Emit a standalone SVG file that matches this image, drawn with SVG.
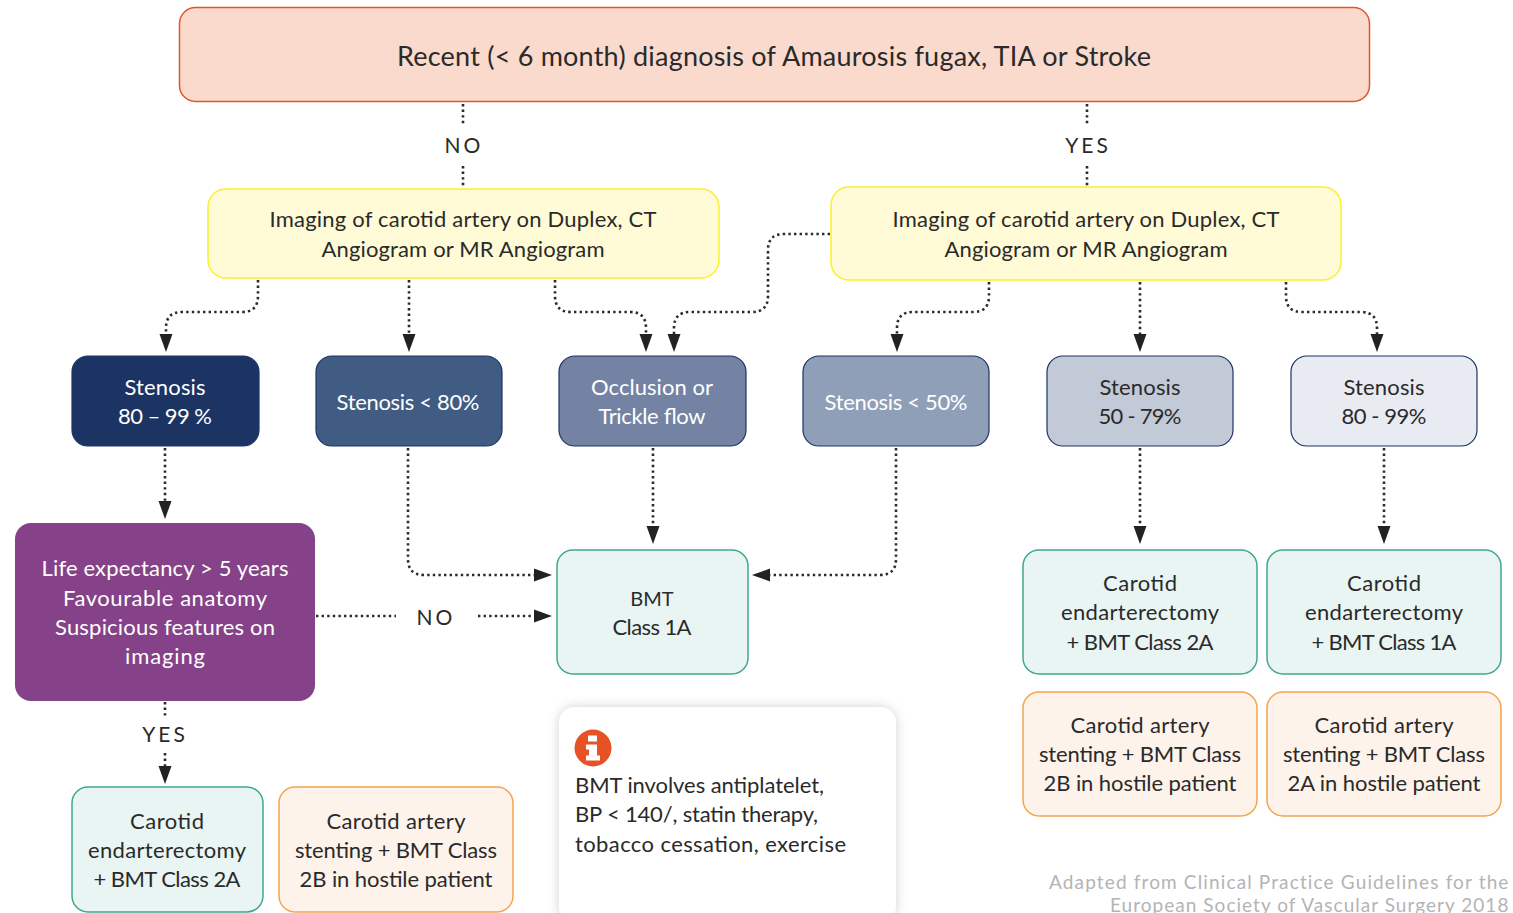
<svg xmlns="http://www.w3.org/2000/svg" width="1513" height="913" viewBox="0 0 1513 913">
<style>
text{font-family:"Lato","Liberation Sans",sans-serif;font-size:22px;fill:#2a2a2a;text-anchor:middle}
.w{fill:#fff}
.lab{letter-spacing:3px;font-size:21px}
.c{fill:none;stroke:#2a2a2a;stroke-width:2.6;stroke-dasharray:2.4 3.2}
.t{fill:#e9f5f3;stroke:#3fa88f;stroke-width:1.5}
.o{fill:#fdf3ea;stroke:#f2a44f;stroke-width:1.5}
.y{fill:#fffbd6;stroke:#fbf02e;stroke-width:1.5}
.s{stroke:#1c3464;stroke-width:1.2}
</style>
<defs>
<marker id="a" markerUnits="userSpaceOnUse" markerWidth="18" markerHeight="14" refX="0" refY="7" orient="auto" viewBox="0 0 18 14"><path d="M0 .5L18 7L0 13.500Z" fill="#222"/></marker>
<filter id="sh" x="-15%" y="-15%" width="130%" height="130%"><feDropShadow dx="0" dy="0" stdDeviation="6" flood-color="#000" flood-opacity=".18"/></filter>
</defs>
<rect width="1513" height="913" fill="#fff"/>
<g id="connectors">
<path class="c" d="M463 104V126M463 166V186M1087 104V126M1087 166V186"/>
<path class="c" marker-end="url(#a)" d="M258 280V296Q258 312 242 312H182Q166 312 166 328V334"/>
<path class="c" marker-end="url(#a)" d="M409 280V334"/>
<path class="c" marker-end="url(#a)" d="M555 280V296Q555 312 571 312H630Q646 312 646 328V334"/>
<path class="c" marker-end="url(#a)" d="M830 234H784Q768 234 768 250V296Q768 312 752 312H690Q674 312 674 328V334"/>
<path class="c" marker-end="url(#a)" d="M989 282V296Q989 312 973 312H913Q897 312 897 328V334"/>
<path class="c" marker-end="url(#a)" d="M1140 282V334"/>
<path class="c" marker-end="url(#a)" d="M1286 282V296Q1286 312 1302 312H1361Q1377 312 1377 328V334"/>
<path class="c" marker-end="url(#a)" d="M165 448V501"/>
<path class="c" marker-end="url(#a)" d="M408 448V559Q408 575 424 575H534"/>
<path class="c" marker-end="url(#a)" d="M653 448V526"/>
<path class="c" marker-end="url(#a)" d="M896 448V559Q896 575 880 575H770"/>
<path class="c" marker-end="url(#a)" d="M1140 448V526"/>
<path class="c" marker-end="url(#a)" d="M1384 448V526"/>
<path class="c" d="M316 616H396"/>
<path class="c" marker-end="url(#a)" d="M478 616H534"/>
<path class="c" d="M165 702V716"/>
<path class="c" marker-end="url(#a)" d="M165 753V766"/>
</g>
<g id="labels">
<text class="lab" x="464" y="153">NO</text>
<text class="lab" x="1088" y="153">YES</text>
<text class="lab" x="436" y="625">NO</text>
<text class="lab" x="165" y="742">YES</text>
</g>
<g id="n-top"><rect x="179.500" y="7.500" width="1190" height="94" rx="16" fill="#f9dacd" stroke="#e6532a" stroke-width="1.500"/><text x="774" y="66" style="font-size:27px" textLength="754">Recent (&lt; 6 month) diagnosis of Amaurosis fugax, TIA or Stroke</text></g>
<g id="n-img1"><rect class="y" x="208" y="189" width="511" height="89" rx="18"/><text x="463" y="227" textLength="387">Imaging of carotid artery on Duplex, CT</text><text x="463" y="257" textLength="283">Angiogram or MR Angiogram</text></g>
<g id="n-img2"><rect class="y" x="831" y="187" width="510" height="93" rx="18"/><text x="1086" y="227" textLength="387">Imaging of carotid artery on Duplex, CT</text><text x="1086" y="257" textLength="283">Angiogram or MR Angiogram</text></g>
<g id="n-s1"><rect class="s" x="72" y="356" width="187" height="90" rx="16" fill="#1c3464"/><text class="w" x="165" y="395" textLength="81">Stenosis</text><text class="w" x="165" y="424" textLength="94">80 – 99 %</text></g>
<g id="n-s2"><rect class="s" x="316" y="356" width="186" height="90" rx="16" fill="#405c82"/><text class="w" x="408" y="410" textLength="143">Stenosis &lt; 80%</text></g>
<g id="n-s3"><rect class="s" x="559" y="356" width="187" height="90" rx="16" fill="#7483a3"/><text class="w" x="652" y="395" textLength="122">Occlusion or</text><text class="w" x="652" y="424" textLength="107">Trickle flow</text></g>
<g id="n-s4"><rect class="s" x="803" y="356" width="186" height="90" rx="16" fill="#909fb8"/><text class="w" x="896" y="410" textLength="143">Stenosis &lt; 50%</text></g>
<g id="n-s5"><rect class="s" x="1047" y="356" width="186" height="90" rx="16" fill="#c2c9d7"/><text x="1140" y="395" textLength="81">Stenosis</text><text x="1140" y="424" textLength="83">50 - 79%</text></g>
<g id="n-s6"><rect class="s" x="1291" y="356" width="186" height="90" rx="16" fill="#e8ebf1"/><text x="1384" y="395" textLength="81">Stenosis</text><text x="1384" y="424" textLength="85">80 - 99%</text></g>
<g id="n-life"><rect x="15" y="523" width="300" height="178" rx="16" fill="#864288"/><text class="w" x="165" y="576" textLength="247">Life expectancy &gt; 5 years</text><text class="w" x="165" y="606" textLength="204">Favourable anatomy</text><text class="w" x="165" y="635" textLength="220">Suspicious features on</text><text class="w" x="165" y="664" textLength="80">imaging</text></g>
<g id="n-bmt"><rect class="t" x="557" y="550" width="191" height="124" rx="16"/><text x="652" y="606" style="font-size:20px">BMT</text><text x="652" y="635" textLength="79">Class 1A</text></g>
<g id="n-ce1"><rect class="t" x="1023" y="550" width="234" height="124" rx="16"/><text x="1140" y="591" textLength="74">Carotid</text><text x="1140" y="620" textLength="158">endarterectomy</text><text x="1140" y="650" textLength="147">+ BMT Class 2A</text></g>
<g id="n-ce2"><rect class="t" x="1267" y="550" width="234" height="124" rx="16"/><text x="1384" y="591" textLength="74">Carotid</text><text x="1384" y="620" textLength="158">endarterectomy</text><text x="1384" y="650" textLength="145">+ BMT Class 1A</text></g>
<g id="n-cs1"><rect class="o" x="1023" y="692" width="234" height="124" rx="16"/><text x="1140" y="733" textLength="139">Carotid artery</text><text x="1140" y="762" textLength="202">stenting + BMT Class</text><text x="1140" y="791" textLength="193">2B in hostile patient</text></g>
<g id="n-cs2"><rect class="o" x="1267" y="692" width="234" height="124" rx="16"/><text x="1384" y="733" textLength="139">Carotid artery</text><text x="1384" y="762" textLength="202">stenting + BMT Class</text><text x="1384" y="791" textLength="193">2A in hostile patient</text></g>
<g id="n-ce3"><rect class="t" x="72" y="787" width="191" height="125" rx="16"/><text x="167" y="829" textLength="74">Carotid</text><text x="167" y="858" textLength="158">endarterectomy</text><text x="167" y="887" textLength="147">+ BMT Class 2A</text></g>
<g id="n-cs3"><rect class="o" x="279" y="787" width="234" height="125" rx="16"/><text x="396" y="829" textLength="139">Carotid artery</text><text x="396" y="858" textLength="202">stenting + BMT Class</text><text x="396" y="887" textLength="193">2B in hostile patient</text></g>
<g id="n-info"><rect x="559" y="707" width="337" height="215" rx="16" fill="#fff" filter="url(#sh)"/><circle cx="593" cy="748" r="18.500" fill="#e65226"/><path d="M588 736h9v6h-9zM588 745h9v11h3v5h-14v-5h3v-6h-3v-5z" fill="#fff" transform="translate(0 -.5)"/>
<text x="575" y="793" style="text-anchor:start" textLength="249">BMT involves antiplatelet,</text><text x="575" y="822" style="text-anchor:start" textLength="243">BP &lt; 140/, statin therapy,</text><text x="575" y="852" style="text-anchor:start" textLength="271">tobacco cessation, exercise</text></g>
<g id="credit"><text x="1509" y="889" style="text-anchor:end;fill:#b4b4b4;font-size:19px;letter-spacing:.6px" textLength="460">Adapted from Clinical Practice Guidelines for the</text><text x="1509" y="912" style="text-anchor:end;fill:#b4b4b4;font-size:19px;letter-spacing:.6px" textLength="399">European Society of Vascular Surgery 2018</text></g>
</svg>
